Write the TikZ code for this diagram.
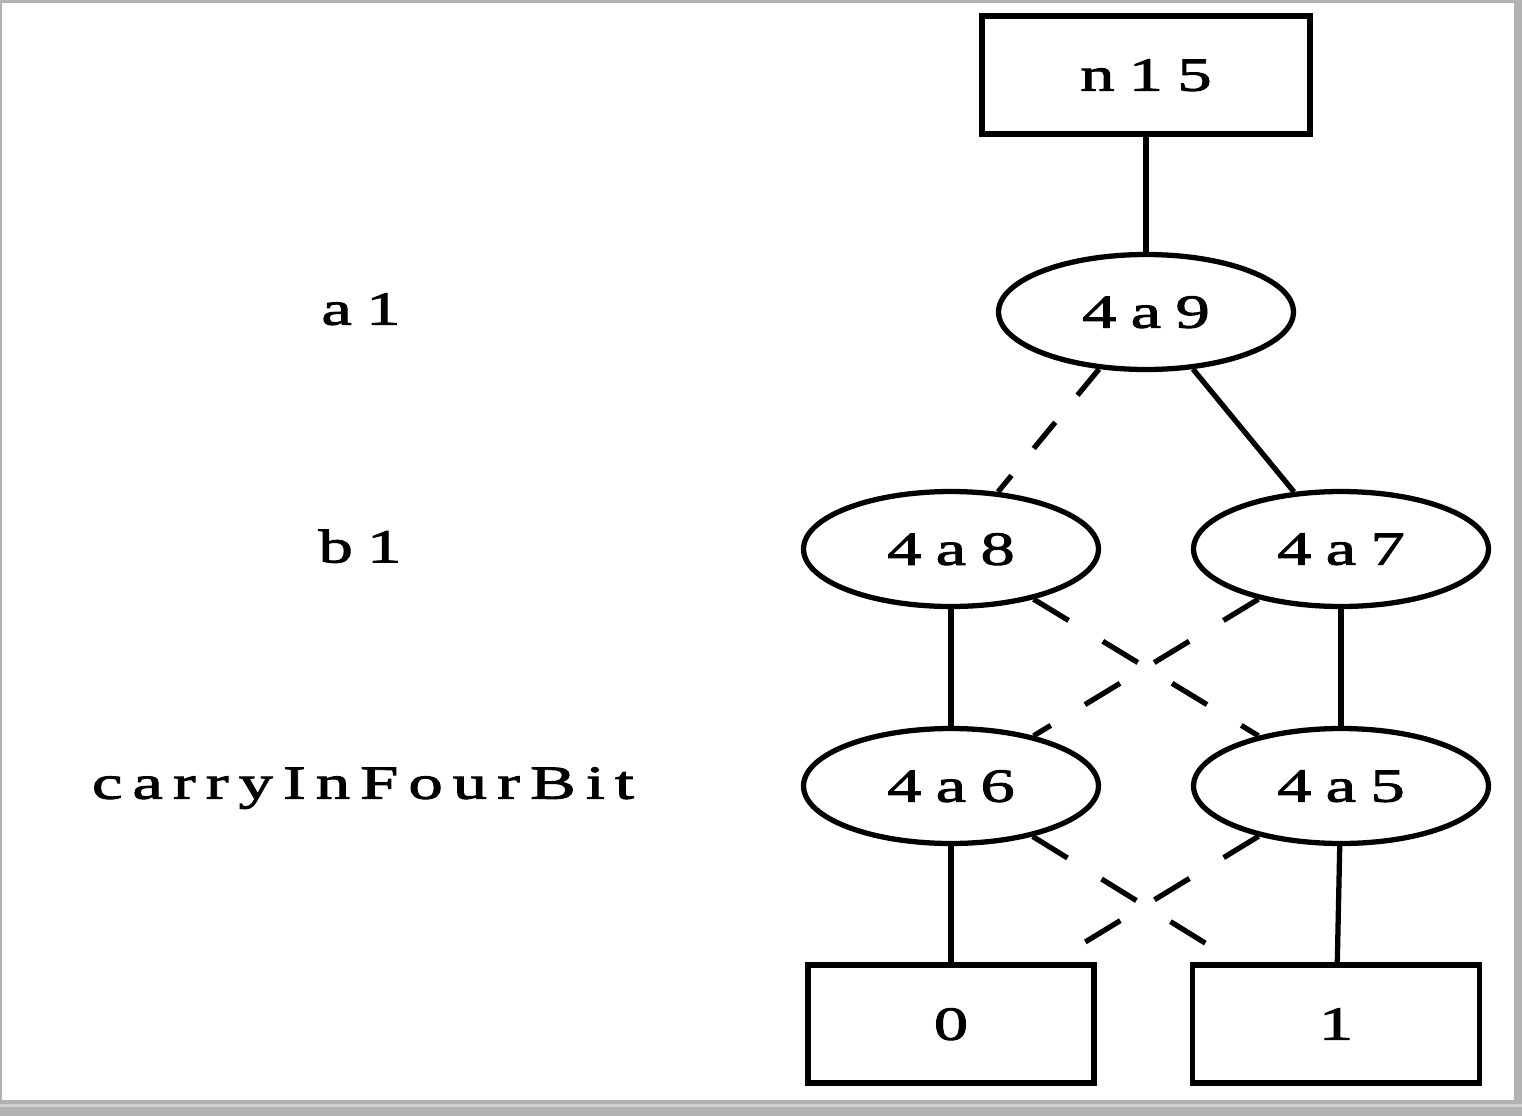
\documentclass[tikz,border=0pt]{standalone}
\usepackage{fontspec}
\usepackage{tikz}
\usetikzlibrary{shapes.geometric}
\setmainfont{Liberation Serif}
\newfontfamily\spacedfont{Liberation Serif}[FakeStretch=1.45, LetterSpace=30, FakeBold=2]
\newfontfamily\narrowfont{Liberation Serif}[FakeStretch=1.45, LetterSpace=21, FakeBold=2]

\begin{document}
\begin{tikzpicture}[
    x=0.02cm, y=-0.02cm,
    every node/.style={color=black, text depth=0pt, font=\fontsize{27}{32}\selectfont\spacedfont},
    var node/.style={ellipse, draw, line width=3pt, minimum width=5.9cm, minimum height=2.3cm, inner sep=0pt},
    term box/.style={rectangle, draw, line width=3.1pt, minimum height=2.36cm, inner sep=0pt},
    important line/.style={line width=3pt},
    dashed line/.style={line width=3pt, dash pattern=on 19.3pt off 19.9pt},
    cross line/.style={line width=3pt, dash pattern=on 23.3pt off 22.8pt},
    ]

    % frame
    \fill[gray!60] (0,0) rectangle (1522,1116);
    \fill[white] (2,3) rectangle (1514,1100);
    \fill[gray!35] (0,1104) rectangle (1522,1107);
    \useasboundingbox (0,0) rectangle (1522,1116);

    % level labels
    \node (la1) at (361,309) {a1};
    \node (lb1) at (360,546) {b1};
    \node[font=\fontsize{27}{32}\selectfont\narrowfont] (lcarry) at (363,783) {carryInFourBit};

    % nodes
    \node[term box, minimum width=6.56cm] (n15) at (1146,75) {n15};
    \node[var node] (v9) at (1146,312) {4a9};
    \node[var node] (v8) at (951,549) {4a8};
    \node[var node] (v7) at (1341,549) {4a7};
    \node[var node] (v6) at (951,786) {4a6};
    \node[var node] (v5) at (1341,786) {4a5};
    \node[term box, minimum width=5.72cm] (t0) at (951,1024) {0};
    \node[term box, minimum width=5.74cm] (t1) at (1336,1024) {1};

    % high edges
    \draw[important line] (n15) -- (v9);
    \draw[important line] (v9) -- (v7);
    \draw[important line] (v8) -- (v6);
    \draw[important line] (v7) -- (v5);
    \draw[important line] (v6) -- (t0);
    \draw[important line] (v5) -- (t1);
    % low edges
    \draw[dashed line] (v9) -- (v8);
    \draw[cross line] (v8) -- (v5);
    \draw[cross line] (v7) -- (v6);
    \draw[cross line] (v6) -- (t1);
    \draw[cross line] (v5) -- (t0);
\end{tikzpicture}
\end{document}
